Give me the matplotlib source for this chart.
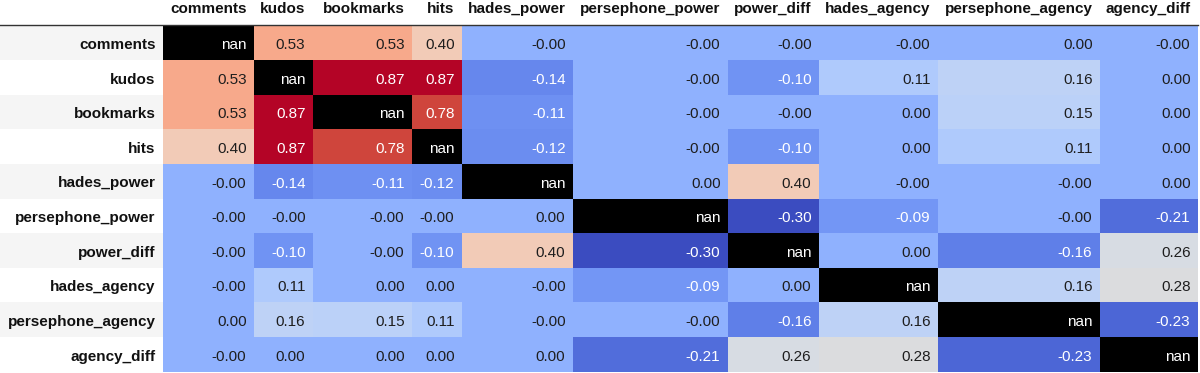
import numpy as np
import matplotlib.pyplot as plt
from matplotlib import colors

plt.rcParams['font.family'] = ['Liberation Sans', 'DejaVu Sans']

labels = ['comments', 'kudos', 'bookmarks', 'hits', 'hades_power',
          'persephone_power', 'power_diff', 'hades_agency',
          'persephone_agency', 'agency_diff']

nan = np.nan
corr = np.array([
    [nan, 0.53, 0.53, 0.40, -0.0, -0.0, -0.0, -0.0, 0.0, -0.0],
    [0.53, nan, 0.87, 0.87, -0.14, -0.0, -0.10, 0.11, 0.16, 0.0],
    [0.53, 0.87, nan, 0.78, -0.11, -0.0, -0.0, 0.0, 0.15, 0.0],
    [0.40, 0.87, 0.78, nan, -0.12, -0.0, -0.10, 0.0, 0.11, 0.0],
    [-0.0, -0.14, -0.11, -0.12, nan, 0.0, 0.40, -0.0, -0.0, 0.0],
    [-0.0, -0.0, -0.0, -0.0, 0.0, nan, -0.30, -0.09, -0.0, -0.21],
    [-0.0, -0.10, -0.0, -0.10, 0.40, -0.30, nan, 0.0, -0.16, 0.26],
    [-0.0, 0.11, 0.0, 0.0, -0.0, -0.09, 0.0, nan, 0.16, 0.28],
    [0.0, 0.16, 0.15, 0.11, -0.0, -0.0, -0.16, 0.16, nan, -0.23],
    [-0.0, 0.0, 0.0, 0.0, 0.0, -0.21, 0.26, 0.28, -0.23, nan],
])

# layout (pixels), first width is the index column
col_widths = [163, 91, 59, 99, 50, 111, 155, 91, 119, 162, 98]
header_h = 25.5
row_h = 34.6
pad = 7.5

x_edges = np.cumsum([0] + col_widths)
y_edges = header_h + row_h * np.arange(len(labels) + 1)
y_mid = (y_edges[:-1] + y_edges[1:]) / 2

cmap = plt.get_cmap('coolwarm').copy()
cmap.set_bad('black')
norm = colors.Normalize(np.nanmin(corr), np.nanmax(corr))


def text_color(v):
    # same rule pandas uses for background_gradient
    if np.isnan(v):
        return 'white'
    rgb = np.array(cmap(norm(v))[:3])
    lin = np.where(rgb <= 0.04045, rgb / 12.92, ((rgb + 0.055) / 1.055) ** 2.4)
    lum = 0.2126 * lin[0] + 0.7152 * lin[1] + 0.0722 * lin[2]
    return 'white' if lum < 0.408 else '#1e1e1e'


fig = plt.figure(figsize=(12, 3.73), dpi=100)
ax = fig.add_axes([0, 0, 1, 1])
ax.set_xlim(0, 1200)
ax.set_ylim(373, 0)
ax.axis('off')

# striped index column
stripe = ['#f5f5f5' if i % 2 == 0 else 'white' for i in range(len(labels))]
ax.barh(y_mid, x_edges[1], height=row_h, left=0, color=stripe, align='center')

ax.pcolormesh(x_edges[1:], y_edges, np.ma.masked_invalid(corr),
              cmap=cmap, norm=norm)

ax.plot([0, x_edges[-1]], [header_h - 1, header_h - 1], color='#333333', lw=1)

for j, name in enumerate(labels):
    ax.text(x_edges[j + 2] - pad, 12.7, name, ha='right', va='baseline',
            fontsize=11, fontweight='bold', color='#111111')

for i, name in enumerate(labels):
    ax.text(x_edges[1] - pad, y_mid[i] + 6.3, name, ha='right', va='baseline',
            fontsize=11, fontweight='bold', color='#111111')
    for j in range(len(labels)):
        v = corr[i, j]
        ax.text(x_edges[j + 2] - pad, y_mid[i] + 6.3, f'{v:.2f}',
                ha='right', va='baseline', fontsize=11, color=text_color(v))

fig.savefig('out.png', dpi=100)
